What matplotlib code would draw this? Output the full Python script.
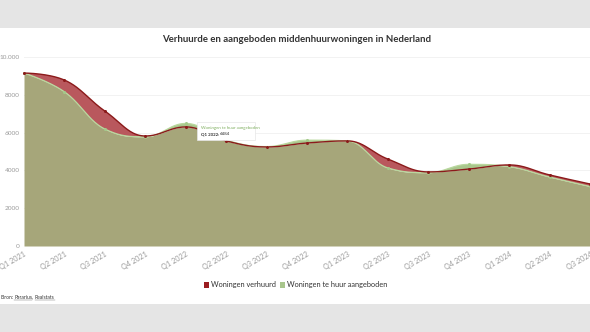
import numpy as np
import matplotlib
matplotlib.use("Agg")
import matplotlib.pyplot as plt
from matplotlib.patches import Rectangle

quarters = ["Q1 2021", "Q2 2021", "Q3 2021", "Q4 2021", "Q1 2022", "Q2 2022", "Q3 2022",
            "Q4 2022", "Q1 2023", "Q2 2023", "Q3 2023", "Q4 2023", "Q1 2024", "Q2 2024", "Q3 2024"]
verhuurd = [9150, 8780, 7140, 5820, 6300, 5560, 5240, 5450, 5560, 4600, 3920, 4070, 4290, 3760, 3280]
aangeboden = [9150, 8160, 6190, 5780, 6484, 5600, 5260, 5600, 5560, 4130, 3880, 4320, 4200, 3650, 3150]
ytick_vals = [0, 2000, 4000, 6000, 8000, 10000]
ytick_labels = ["0", "2000", "4000", "6000", "8000", "10.000"]

FONT = ["Lato", "DejaVu Sans"]
plt.rcParams["font.family"] = FONT


def hc_spline(xs, ys, n=40):
    xs = np.asarray(xs, float); ys = np.asarray(ys, float)
    m = len(xs)
    lc = [(xs[i], ys[i]) for i in range(m)]
    rc = [(xs[i], ys[i]) for i in range(m)]
    s, d = 1.5, 2.5
    for i in range(1, m - 1):
        x, y = xs[i], ys[i]
        lx, ly = xs[i - 1], ys[i - 1]
        nx, ny = xs[i + 1], ys[i + 1]
        lcx = (s * x + lx) / d; lcy = (s * y + ly) / d
        rcx = (s * x + nx) / d; rcy = (s * y + ny) / d
        corr = ((rcy - lcy) * (rcx - x)) / (rcx - lcx) + y - rcy
        lcy += corr; rcy += corr
        if lcy > ly and lcy > y:
            lcy = max(ly, y); rcy = 2 * y - lcy
        elif lcy < ly and lcy < y:
            lcy = min(ly, y); rcy = 2 * y - lcy
        if rcy > ny and rcy > y:
            rcy = max(ny, y); lcy = 2 * y - rcy
        elif rcy < ny and rcy < y:
            rcy = min(ny, y); lcy = 2 * y - rcy
        lc[i] = (lcx, lcy); rc[i] = (rcx, rcy)
    t = np.linspace(0, 1, n)
    X, Y = [], []
    for i in range(m - 1):
        p0 = np.array([xs[i], ys[i]]); p1 = np.array(rc[i])
        p2 = np.array(lc[i + 1]); p3 = np.array([xs[i + 1], ys[i + 1]])
        b = ((1 - t) ** 3)[:, None] * p0 + (3 * (1 - t) ** 2 * t)[:, None] * p1 + \
            (3 * (1 - t) * t ** 2)[:, None] * p2 + (t ** 3)[:, None] * p3
        X.extend(b[:, 0]); Y.extend(b[:, 1])
    return np.array(X), np.array(Y)


x = np.arange(len(quarters))
rx, ry = hc_spline(x, verhuurd)
gx, gy = hc_spline(x, aangeboden)
xg = np.linspace(0, len(quarters) - 1, 3000)
r = np.interp(xg, rx, ry)
g = np.interp(xg, gx, gy)

W, H = 590, 332
fig = plt.figure(figsize=(W / 100, H / 100), dpi=100)
fig.patch.set_facecolor("#e5e5e5")
fig.add_artist(Rectangle((0, 28 / H), 1, (304 - 28) / H, transform=fig.transFigure,
                         facecolor="white", edgecolor="none", zorder=0))
renderer = fig.canvas.get_renderer()


def text_px(px, py, s, **kw):
    """Place text at pixel coords (from top-left) and return its right edge in px."""
    t = fig.text(px / W, 1 - py / H, s, **kw)
    bb = t.get_window_extent(renderer=renderer)
    return bb.x1


ax = fig.add_axes([24 / W, (H - 246) / H, (590 - 24) / W, (246 - 57) / H])
ax.set_facecolor("none")
ax.set_xlim(0, len(quarters) - 1)
ax.set_ylim(0, 10000)
for sp in ax.spines.values():
    sp.set_visible(False)
ax.set_yticks(ytick_vals)
ax.set_yticklabels(ytick_labels)
ax.grid(axis="y", color="#f2f2f2", linewidth=0.7, zorder=0)
ax.set_axisbelow(True)
ax.tick_params(axis="y", length=0, pad=3, labelsize=4.6, labelcolor="#9a9a9a")
ax.set_xticks(x)
ax.set_xticklabels(quarters, rotation=30, ha="right", va="top", rotation_mode="anchor")
ax.tick_params(axis="x", length=0, pad=3, labelsize=5.2, labelcolor="#999999")

olive = "#a6a67a"
redfill = "#b9585d"
greenfill = "#a9c68d"
ax.fill_between(xg, 0, np.minimum(r, g), color=olive, lw=0, zorder=2)
ax.fill_between(xg, g, r, where=r >= g, interpolate=True, color=redfill, lw=0, zorder=2)
ax.fill_between(xg, r, g, where=g >= r, interpolate=True, color=greenfill, lw=0, zorder=2)
ax.plot(gx, gy, color="#b9d89e", lw=0.9, zorder=3)
ax.plot(rx, ry, color="#8b1a1a", lw=1.0, zorder=4)
ax.plot(x, aangeboden, "o", color="#a3c98a", ms=2.2, mew=0, zorder=5, clip_on=False)
ax.plot(x, verhuurd, "o", color="#8b1a1a", ms=2.2, mew=0, zorder=6, clip_on=False)

text_px(297, 39, "Verhuurde en aangeboden middenhuurwoningen in Nederland",
        ha="center", va="center", fontsize=6.9, fontweight="bold", color="#333333")

# tooltip
fig.add_artist(Rectangle((197 / W, 1 - 140 / H), 58 / W, 18 / H, transform=fig.transFigure,
                         facecolor="white", edgecolor="#e6e6e6", lw=0.5, zorder=10))
text_px(200.5, 127.5, "Woningen te huur aangeboden", fontsize=3.2,
        color="#7fae5f", va="center", ha="left", zorder=11)
xe = text_px(200.5, 134, "Q1 2022:", fontsize=3.2, fontweight="bold",
             color="#333333", va="center", ha="left", zorder=11)
text_px(xe + 1.5, 134, "6484", fontsize=3.2, color="#333333", va="center", ha="left", zorder=11)

# legend
lfs = 5.3
fig.add_artist(Rectangle((204 / W, 1 - 287.5 / H), 5 / W, 6 / H, transform=fig.transFigure,
                         facecolor="#9b1c20", edgecolor="none", zorder=10))
xe = text_px(211, 284.5, "Woningen verhuurd", fontsize=lfs, color="#333333",
             va="center", ha="left")
gx0 = xe + 4
fig.add_artist(Rectangle((gx0 / W, 1 - 287.5 / H), 5 / W, 6 / H, transform=fig.transFigure,
                         facecolor="#a9c68d", edgecolor="none", zorder=10))
text_px(gx0 + 7, 284.5, "Woningen te huur aangeboden", fontsize=lfs, color="#333333",
        va="center", ha="left")

# source
sfs = 3.6
xe = text_px(1, 297.5, "Bron: ", fontsize=sfs, color="#333333", va="center", ha="left")
x1 = text_px(xe, 297.5, "Pararius", fontsize=sfs, color="#333333", va="center", ha="left")
fig.add_artist(plt.Line2D([xe / W, x1 / W], [1 - 300 / H, 1 - 300 / H],
                          transform=fig.transFigure, color="#666666", lw=0.3))
x2 = text_px(x1, 297.5, ", ", fontsize=sfs, color="#333333", va="center", ha="left")
x3 = text_px(x2, 297.5, "Realstats", fontsize=sfs, color="#333333", va="center", ha="left")
fig.add_artist(plt.Line2D([x2 / W, x3 / W], [1 - 300 / H, 1 - 300 / H],
                          transform=fig.transFigure, color="#666666", lw=0.3))

fig.savefig("out.png", dpi=100, facecolor=fig.get_facecolor())
